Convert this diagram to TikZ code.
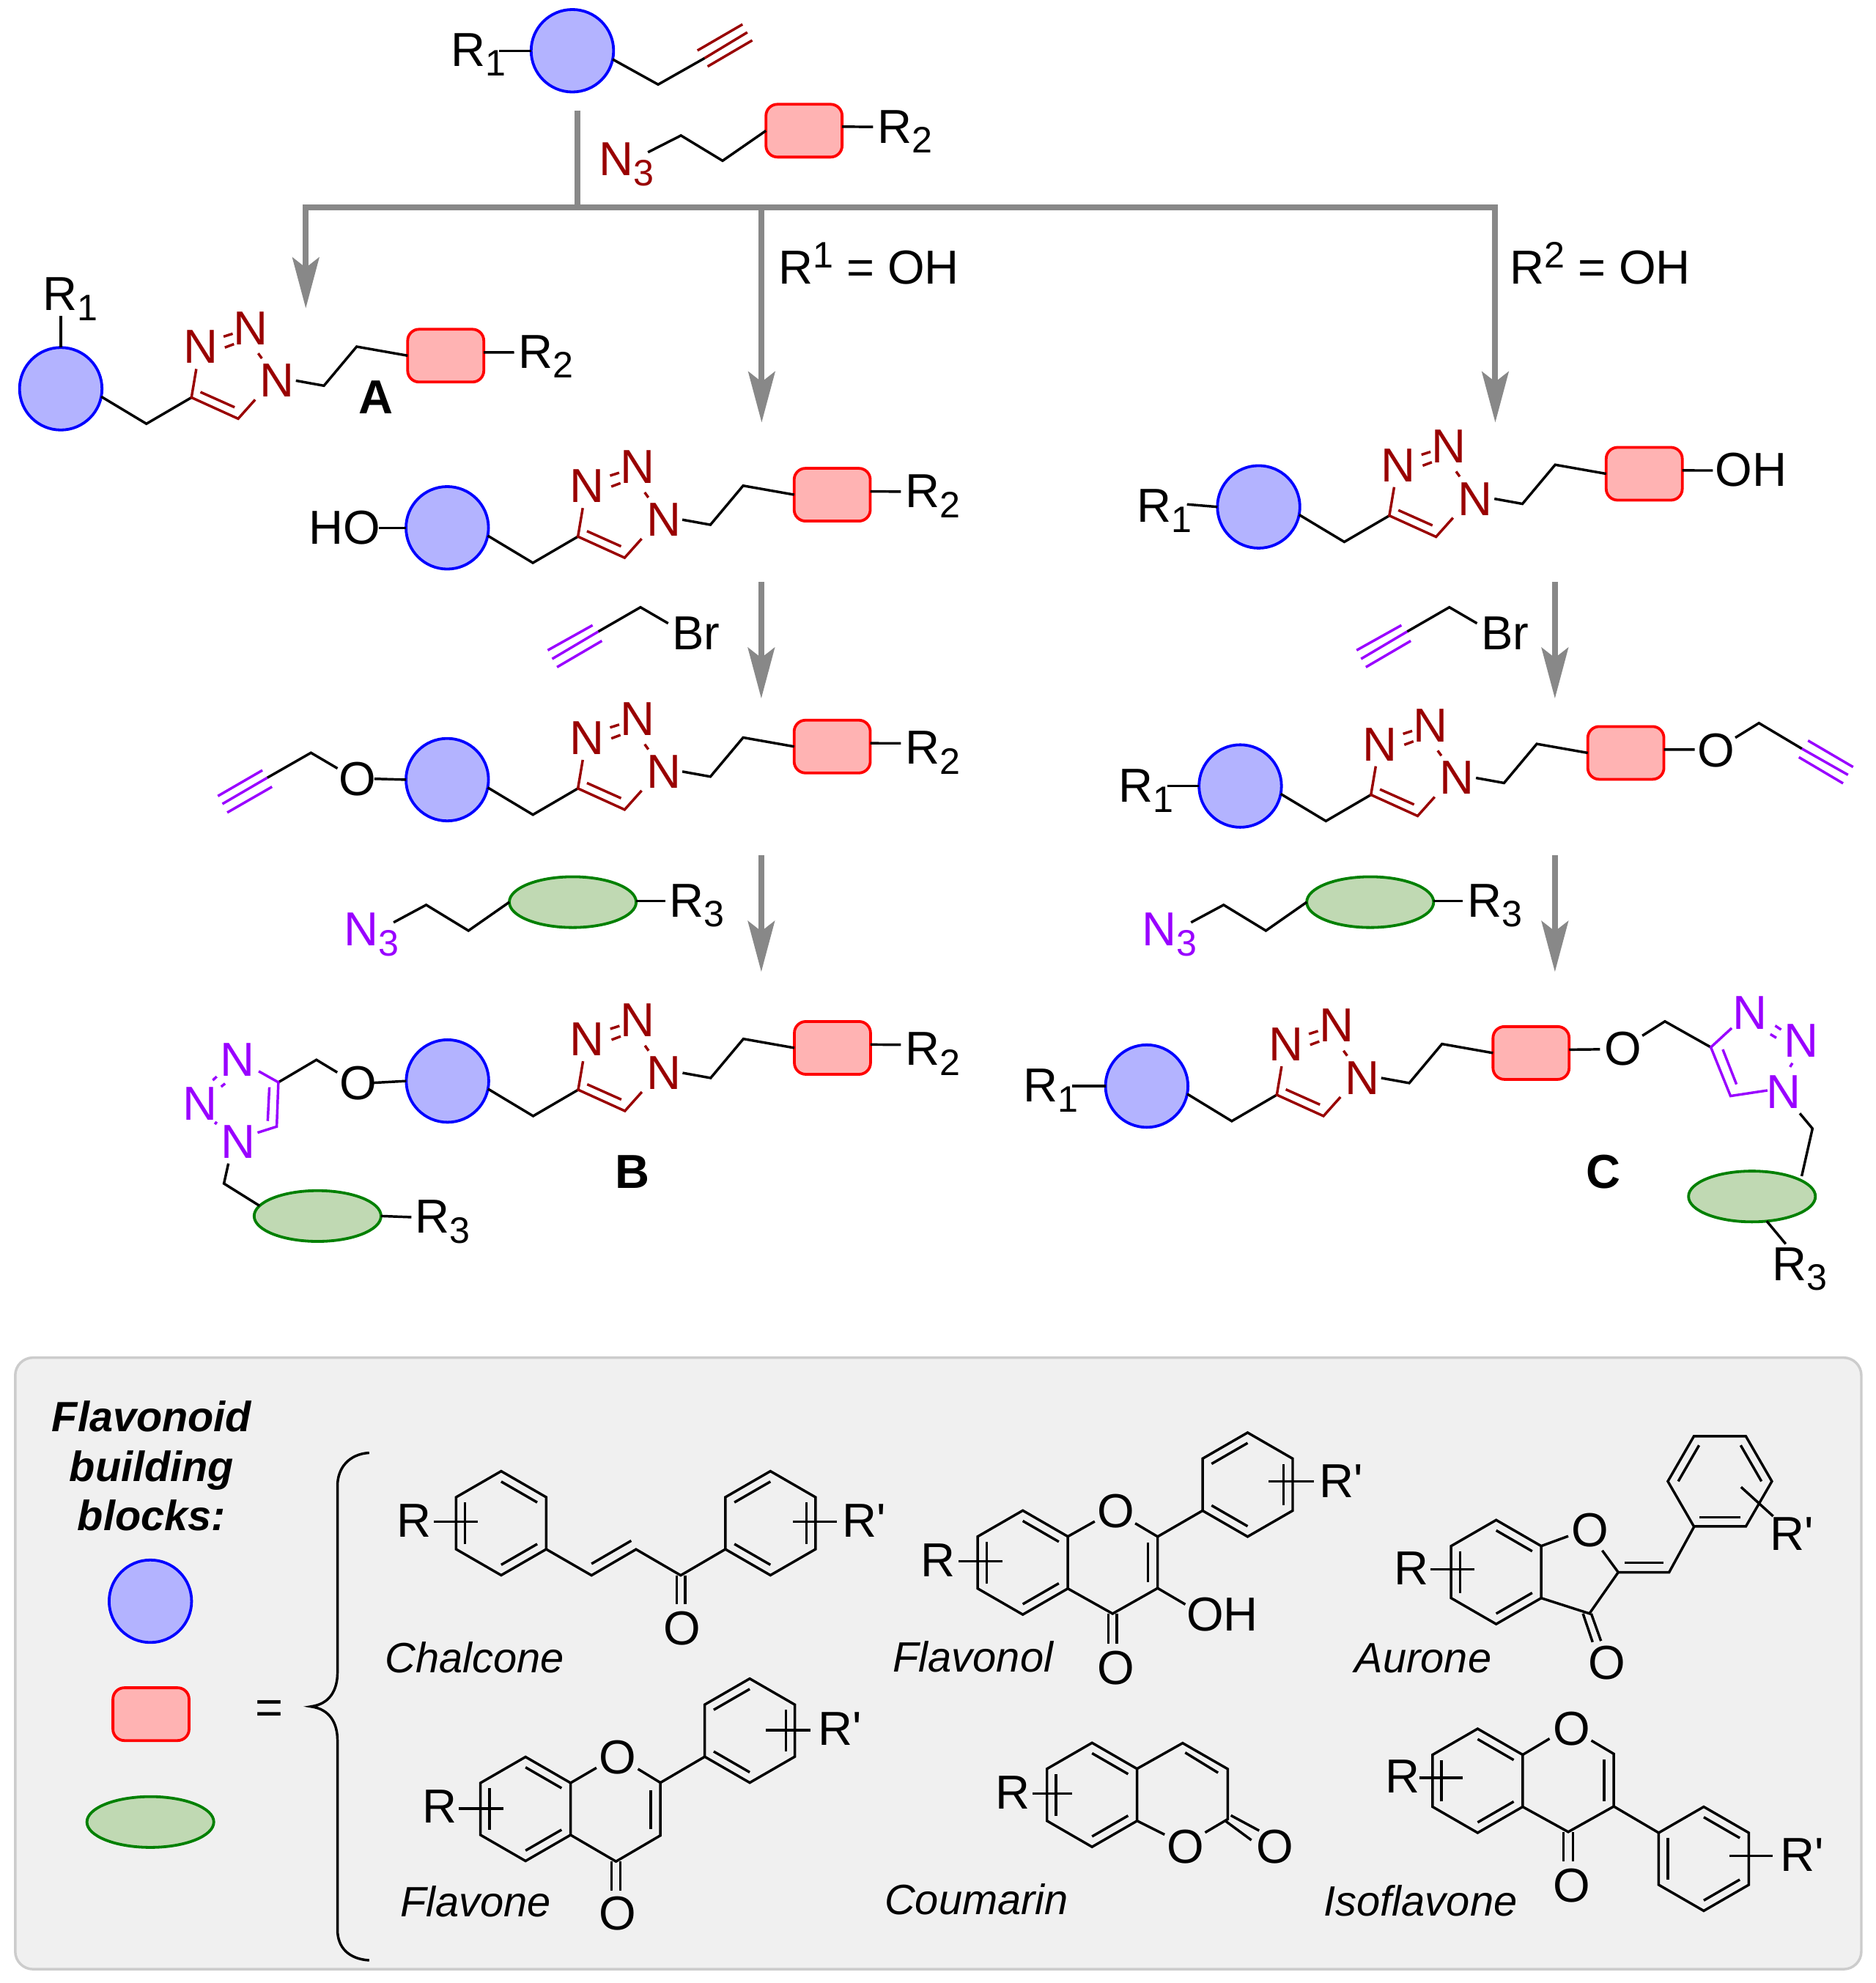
\documentclass[tikz,border=0pt]{standalone}
\usepackage{fontspec}
\usetikzlibrary{arrows.meta,shapes.geometric}
\newfontfamily\lsf{Liberation Sans}
\definecolor{dred}{HTML}{990000}
\definecolor{vio}{HTML}{9900FF}
\definecolor{arrowgray}{HTML}{888888}
\definecolor{bluefill}{HTML}{B3B3FF}
\definecolor{redfill}{HTML}{FFB3B3}
\definecolor{greenfill}{HTML}{C0D9B3}
\definecolor{greenline}{HTML}{008000}
\definecolor{panelfill}{HTML}{F0F0F0}
\definecolor{panelline}{HTML}{CCCCCC}
\def\hR{20.5pt}
\def\hr{16.4pt}
\newcommand\Lo[1]{\raisebox{-4pt}{\fontsize{14.5}{14.5}\selectfont #1}}
\newcommand\Hi[1]{\raisebox{6.5pt}{\fontsize{14.5}{14.5}\selectfont #1}}
\tikzset{
  x=0.5pt,y=-0.5pt,
  bond/.style={line width=1pt,black},
  rbond/.style={line width=1pt,dred},
  vbond/.style={line width=1pt,vio},
  cblob/.style={circle,draw=blue,fill=bluefill,line width=1.1pt,minimum size=32.5pt,inner sep=0pt,outer sep=0pt},
  sblob/.style={rectangle,draw=red,fill=redfill,line width=1.1pt,rounded corners=4.5pt,minimum width=30pt,minimum height=20.8pt,inner sep=0pt,outer sep=0pt},
  gblob/.style={ellipse,draw=greenline,fill=greenfill,line width=1.1pt,minimum width=50pt,minimum height=20pt,inner sep=0pt,outer sep=0pt},
  txt/.style={anchor=base west,inner sep=0pt,outer sep=0pt,xshift=-1.3pt,font=\lsf\fontsize{18.8}{20}\selectfont},
  atom/.style={anchor=center,inner sep=0pt,outer sep=0pt,font=\lsf\fontsize{18.8}{20}\selectfont},
  boldlab/.style={anchor=base west,inner sep=0pt,outer sep=0pt,font=\lsf\bfseries\fontsize{18.8}{20}\selectfont},
  cmpd/.style={anchor=base west,inner sep=0pt,outer sep=0pt,xshift=-1pt,font=\lsf\itshape\fontsize{16.7}{20}\selectfont},
  legend/.style={anchor=base,inner sep=0pt,outer sep=0pt,font=\lsf\bfseries\itshape\fontsize{16.65}{20}\selectfont},
  trunk/.style={line width=2.3pt,arrowgray},
  flow/.style={line width=2.3pt,arrowgray,-{Stealth[length=20pt,width=10.5pt,inset=4pt]}},
}
% hexagon: centre x, centre y, start angle, list of edges carrying an inner double line
\newcommand\hexring[4]{%
  \begin{scope}[shift={(#1,#2)}]
    \draw[bond] ({#3}:\hR) -- ({#3-60}:\hR) -- ({#3-120}:\hR) -- ({#3-180}:\hR) -- ({#3-240}:\hR) -- ({#3-300}:\hR) -- cycle;
    \foreach \k in {#4}{\draw[bond] ({#3-60*(\k-1)}:\hr) -- ({#3-60*\k}:\hr);}
  \end{scope}}
% blob - CH2 - triazole - chain - square
\newcommand\motif[5]{%
  \begin{scope}[shift={(#2,#3)}]
    \node[cblob] (#1c) at (0,0) {};
    \node[sblob] (#1s) at (303.4+#5,-26.1) {};
    \node[atom,text=dred] (#1n1) at (170.5+#4,-6.4) {N};
    \node[atom,text=dred] (#1n3) at (110.1+#4,-32.9) {N};
    \node[atom,text=dred] (#1n2) at (149.9+#4,-47.8) {N};
    \coordinate (#1a) at (67.5+#4,27.6);
    \coordinate (#1k4) at (103+#4,6.9);
    \coordinate (#1k5) at (139.8+#4,23.6);
    \coordinate (#1e1) at (207.4+#5,-2.4);
    \coordinate (#1e2) at (233.2+#5,-33.2);
    \draw[bond] (#1c.-11.6) -- (#1a) -- (#1k4);
    \draw[rbond] (106.8+#4,-15.6) -- (#1k4) -- (#1k5) -- (153.2+#4,8.6);
    \draw[rbond] (110.1+#4,2.6) -- (137+#4,14.6);
    \draw[rbond] (128.3+#4,-41.1) -- (135.5+#4,-43.4);
    \draw[rbond] (129.3+#4,-32.5) -- (136.5+#4,-35.2);
    \draw[rbond] (155.6+#4,-27.9) -- (158.5+#4,-23.9);
    \draw[bond] (185.3+#5,-6.4) -- (#1e1) -- (#1e2) -- (#1s.west);
  \end{scope}}
% N3 - chain - green ellipse - R3
\newcommand\greenazide[2]{%
  \begin{scope}[shift={(#2,0)}]
    \node[gblob] (#1g) at (451.4,711) {};
    \node[txt,text=vio] (#1n) at (274,745.3) {N\Lo{3}};
    \node[txt] (#1r) at (530.4,722.6) {R\Lo{3}};
    \coordinate (#1b) at (335.9,713.2);
    \coordinate (#1d) at (369.2,733.5);
    \draw[bond] (310.2,727) -- (#1b) -- (#1d) -- (#1g.west);
    \draw[bond] (#1g.east) ++(0,-1) -- (524.5,710);
  \end{scope}}
% violet alkyne - CH2 - Br
\newcommand\bromide[2]{%
  \begin{scope}[shift={(#2,0)}]
    \node[txt] (#1br) at (532.5,512) {Br};
    \coordinate (#1a) at (471.5,497.8);
    \coordinate (#1b) at (504.8,478.6);
    \draw[bond] (#1a) -- (#1b) -- (526.6,491.3);
    \draw[vbond] (467,492.8) -- (431.7,512.5);
    \draw[vbond] (#1a) -- (435.2,519.3);
    \draw[vbond] (474.4,505.1) -- (439,525.8);
  \end{scope}}
\begin{document}
\begin{tikzpicture}
\useasboundingbox (0,0) rectangle (1478,1562.9);
\fill[white] (0,0) rectangle (1478,1562.9);

% ---------- starting materials
\begin{scope}[shift={(-2.3,0)}]
\node[cblob] (t c) at (453.4,40) {};
\node[txt] (t r) at (360.6,52) {R\Lo{1}};
\coordinate (t a) at (521,66.6);
\coordinate (t b) at (557.7,45.8);
\draw[bond] (395.7,40) -- (t c.west);
\draw[bond] (t c.-12) -- (t a) -- (t b);
\draw[rbond] (552,39.8) -- (587.5,19.2);
\draw[rbond] (t b) -- (591.3,25.5);
\draw[rbond] (560,52.4) -- (595.2,31.8);

\node[sblob] (z s) at (636,103) {};
\node[txt,text=dred] (z n) at (477,138.6) {N\Lo{3}};
\node[txt] (z r) at (696.6,112.7) {R\Lo{2}};
\coordinate (z a) at (539,106.8);
\coordinate (z b) at (571.8,126.7);
\draw[bond] (513,120) -- (z a) -- (z b) -- (z s.west);
\draw[bond] (z s.6) -- (690.4,100);
\end{scope}

% ---------- reaction tree
\coordinate (t0) at (455,87);
\coordinate (hub) at (455,163.5);
\coordinate (hl) at (241,163.5);
\coordinate (hm) at (600.3,163.5);
\coordinate (hrt) at (1178.5,163.5);
\coordinate (tl) at (241,243);
\coordinate (tm) at (600.3,333);
\coordinate (tr) at (1178.5,333);
\draw[trunk] (t0) -- (hub);
\draw[trunk,line cap=rect] (hl) -- (hrt);
\draw[flow] (hl) -- (tl);
\draw[flow] (hm) -- (tm);
\draw[flow] (hrt) -- (tr);
\node[txt] (cond1) at (616,224) {R\Hi{1} = OH};
\node[txt] (cond2) at (1192.5,224) {R\Hi{2} = OH};

\coordinate (a1) at (600,458.5); \coordinate (a2) at (600,550.5);
\coordinate (a3) at (600,674); \coordinate (a4) at (600,766);
\coordinate (b1) at (1225.5,458.5); \coordinate (b2) at (1225.5,550.5);
\coordinate (b3) at (1225.5,674); \coordinate (b4) at (1225.5,766);
\draw[flow] (a1) -- (a2);
\draw[flow] (a3) -- (a4);
\draw[flow] (b1) -- (b2);
\draw[flow] (b3) -- (b4);

% ---------- product A
\motif{A}{47.9}{306.4}{0}{0}
\node[txt] (A r1) at (36.4,244.7) {R\Lo{1}};
\node[txt] (A r2) at (411,290) {R\Lo{2}};
\draw[bond] (Ac.north) -- (47.9,249);
\draw[bond] (As.5) -- (405.2,277.8);
\node[boldlab] (A lab) at (282.5,326) {A};

% ---------- left column
\motif{L}{352.5}{416}{0}{0}
\node[txt] (L ho) at (246,428.7) {HO};
\node[txt] (L r2) at (716,400) {R\Lo{2}};
\draw[bond] (298.5,416) -- (Lc.west);
\draw[bond] (Ls.5) -- (710,387.5);

\bromide{bl}{0}

\motif{M}{352.5}{614.5}{0}{0}
\node[atom] (M o) at (282,613.8) {O};
\node[txt] (M r2) at (716,602) {R\Lo{2}};
\coordinate (M p) at (245.1,593.3);
\coordinate (M q) at (210.6,613);
\draw[bond] (M o) ++(13,0) -- (Mc.west);
\draw[bond] (266,605.6) -- (M p) -- (M q);
\draw[vbond] (206.8,607.1) -- (171.7,627.4);
\draw[vbond] (M q) -- (175.3,633.6);
\draw[vbond] (214.4,620.1) -- (179.1,640.4);
\draw[bond] (Ms.5) -- (710,585.8);

\greenazide{gl}{0}

\motif{B}{352.7}{852}{0}{0}
\node[txt] (B r2) at (716,839.5) {R\Lo{2}};
\draw[bond] (Bs.5) -- (710,823.4);
\node[atom] (B o) at (282.2,853.6) {O};
\draw[bond] (294.5,853.4) -- (Bc.west);
\coordinate (B p) at (249.4,835.3);
\coordinate (B k4) at (219.4,853);
\coordinate (B k5) at (218.1,887.9);
\draw[bond] (265.8,845.2) -- (B p) -- (B k4);
\node[atom,text=vio] (B na) at (187.1,835.5) {N};
\node[atom,text=vio] (B nb) at (157.5,870) {N};
\node[atom,text=vio] (B nc) at (187.6,900) {N};
\draw[vbond] (203.9,844.3) -- (B k4) -- (B k5) -- (203,892.7);
\draw[vbond] (212.3,856.9) -- (211,883.5);
\draw[vbond] (170.8,848.5) -- (167.7,851.4);
\draw[vbond] (177.4,854) -- (174.3,856.5);
\draw[vbond] (170.8,884.1) -- (169.4,886.1);
\node[gblob] (B g) at (250.3,958.4) {};
\coordinate (B m) at (176.5,932.8);
\draw[bond] (180,917) -- (B m) -- (B g.170);
\draw[bond] (B g.east) -- (324.2,959.3);
\node[txt] (B r3) at (329.9,971.9) {R\Lo{3}};
\node[boldlab] (B lab) at (485,936.5) {B};

% ---------- right column
\motif{P}{992}{399.5}{0}{0.5}
\node[txt] (P r1) at (898.4,411.5) {R\Lo{1}};
\draw[bond] (935.5,397.5) -- (Pc.west);
\draw[bond] (Ps.5) -- (1350,370.8);
\node[txt] (P oh) at (1354.5,383) {OH};

\bromide{br}{637.5}

\motif{Q}{977.5}{619.5}{0}{0.5}
\node[txt] (Q r1) at (884.4,632.3) {R\Lo{1}};
\draw[bond] (919.9,619.5) -- (Qc.west);
\draw[bond] (Qs.5) -- (1335.7,590.8);
\begin{scope}[shift={(-6,0)}]
\node[atom] (Q o) at (1358.3,591.5) {O};
\coordinate (Q p) at (1392.3,569.9);
\coordinate (Q q) at (1426.2,590.1);
\draw[bond] (1373.7,581.4) -- (Q p) -- (Q q);
\draw[vbond] (1431,583.7) -- (1466.5,604.5);
\draw[vbond] (Q q) -- (1462.5,610.7);
\draw[vbond] (1423.8,596.8) -- (1458.6,617.4);
\end{scope}

\greenazide{gr}{628.5}

\motif{C}{903.8}{856}{-0.5}{-0.5}
\node[txt] (C r1) at (809.4,868.4) {R\Lo{1}};
\draw[bond] (845,856) -- (Cc.west);
\draw[bond] (Cs.5) -- (1261,827);
\begin{scope}[shift={(-6,-1)}]
\node[atom] (C o) at (1285.3,827.5) {O};
\coordinate (C p) at (1318.2,806);
\coordinate (C k4) at (1354.4,826.4);
\coordinate (C k5) at (1369.9,864.8);
\draw[bond] (1300.4,817.3) -- (C p) -- (C k4);
\node[atom,text=vio] (C na) at (1385.5,799) {N};
\node[atom,text=vio] (C nb) at (1425.5,821) {N};
\node[atom,text=vio] (C nc) at (1411.5,861.5) {N};
\draw[vbond] (1370.8,811.3) -- (C k4) -- (C k5) -- (1399,860.4);
\draw[vbond] (1363.8,828.1) -- (1374.6,855.6);
\draw[vbond] (1405.1,809.4) -- (1409.8,812.5);
\draw[vbond] (1401.3,816.1) -- (1406,819);
\draw[vbond] (1418.7,838.9) -- (1416.8,841.9);
\end{scope}
\node[gblob] (C g) at (1380.8,943) {};
\coordinate (C m) at (1428.5,889.5);
\draw[bond] (1418.5,877.5) -- (C m) -- (1420,927);
\draw[bond] (1392.4,962.4) -- (1407.4,980.4);
\node[txt] (C r3) at (1399.4,1009) {R\Lo{3}};
\node[boldlab] (C lab) at (1250,936.5) {C};

% ---------- panel
\draw[panelline,fill=panelfill,line width=1pt,rounded corners=7pt] (12,1070) rectangle (1467,1552);
\node[legend] (f1) at (119.5,1128.5) {Flavonoid};
\node[legend] (f2) at (119.5,1167.5) {building};
\node[legend] (f3) at (119.5,1206.5) {blocks:};
\node[cblob] (k c) at (118.5,1262) {};
\node[sblob] (k s) at (119,1351) {};
\node[gblob] (k g) at (118.5,1436) {};
\node[atom,anchor=base] (k eq) at (212.5,1359) {=};
\draw[bond] (291,1145) .. controls (275,1146) and (266,1157) .. (266,1171) -- (266,1318)
  .. controls (266,1332) and (260,1343) .. (245,1345)
  .. controls (260,1347) and (266,1358) .. (266,1372) -- (266,1521)
  .. controls (266,1535) and (275,1544) .. (291,1545);

% Chalcone
\begin{scope}[shift={(-2.5,-3.5)}]
\hexring{397.5}{1204}{90}{1,3,5}
\hexring{609.7}{1204}{90}{6,2,4}
\node[txt] (ch r) at (318,1215) {R};
\node[txt] (ch rp) at (669,1215) {R'};
\draw[bond] (344.6,1202.7) -- (379.2,1202.7);
\draw[bond] (627.5,1202.7) -- (662.2,1202.7);
\draw[bond] (433,1224.5) -- (468.7,1245.1) -- (503.8,1224.6) -- (539,1245.1) -- (574.2,1224.5);
\draw[bond] (468.7,1236) -- (500,1217.8);
\draw[bond] (535.8,1245) -- (535.8,1268);
\draw[bond] (542.5,1245) -- (542.5,1268);
\node[atom] (ch o) at (540,1287) {O};
\node[cmpd] (ch n) at (308,1321.5) {Chalcone};
\end{scope}

% Flavone
\begin{scope}[shift={(-2.5,-6)}]
\hexring{416.7}{1431.7}{90}{1,3,5}
\hexring{593.4}{1370}{90}{6,2,4}
\node[atom] (fe o) at (489.4,1391) {O};
\node[atom] (fe o2) at (489.4,1514) {O};
\node[txt] (fe r) at (338.3,1442.6) {R};
\node[txt] (fe rp) at (649.7,1381.6) {R'};
\node[cmpd] (fe n) at (320,1516.5) {Flavone};
\draw[bond] (452.2,1411.2) -- (472.6,1399.3);
\draw[bond] (505.3,1400.2) -- (523,1411) -- (523,1452.6) -- (488,1473.1) -- (452.2,1452.2);
\draw[bond] (523,1411) -- (558,1390.5);
\draw[bond] (515.4,1417) -- (515.4,1447.4);
\draw[bond] (484.6,1473) -- (484.6,1496.2);
\draw[bond] (491.4,1473) -- (491.4,1496.2);
\draw[bond] (364.3,1431.4) -- (399.4,1431.4);
\draw[bond] (606.3,1369.7) -- (641.5,1369.7);
\end{scope}

% Flavonol
\begin{scope}[shift={(-3.5,-2.5)}]
\hexring{809.6}{1234}{90}{1,3,5}
\hexring{986.8}{1172.6}{90}{6,2,4}
\node[atom] (fl o) at (883,1193.5) {O};
\node[atom] (fl o2) at (883,1317.2) {O};
\node[txt] (fl oh) at (941.2,1288) {OH};
\node[txt] (fl r) at (732,1245) {R};
\node[txt] (fl rp) at (1046,1183) {R'};
\node[cmpd] (fl n) at (709.3,1320) {Flavonol};
\draw[bond] (845.1,1213.5) -- (866.3,1201.6);
\draw[bond] (898.2,1203.1) -- (915.9,1213.6) -- (915.9,1254.2) -- (880.4,1274.3) -- (845.1,1254.5);
\draw[bond] (915.9,1213.6) -- (951.3,1193.1);
\draw[bond] (908.3,1218) -- (908.3,1249.6);
\draw[bond] (915.9,1254.2) -- (937.7,1267);
\draw[bond] (877,1274.3) -- (877,1297.7);
\draw[bond] (883.8,1274.3) -- (883.8,1297.7);
\draw[bond] (758.9,1233) -- (793.4,1233);
\draw[bond] (1003.5,1170) -- (1038.9,1170);
\end{scope}

% Aurone
\begin{scope}[shift={(-5,-2)}]
\hexring{1184.2}{1241}{90}{1,3,5}
\hexring{1360.5}{1169.5}{120}{2,4,6}
\node[atom] (au o) at (1258.2,1208.2) {O};
\node[atom] (au o2) at (1271.3,1312.7) {O};
\node[txt] (au r) at (1106.2,1251) {R};
\node[txt] (au rp) at (1402.5,1224) {R'};
\node[cmpd] (au n) at (1074.8,1320) {Aurone};
\draw[bond] (1219.7,1220.5) -- (1241,1212.7);
\draw[bond] (1267.8,1224) -- (1280.4,1241.2) -- (1257.7,1273.7) -- (1219.7,1261.5);
\draw[bond] (1280.4,1241.2) -- (1320.5,1241.2) -- (1340.2,1205.2);
\draw[bond] (1285.5,1233.7) -- (1316,1233.7);
\draw[bond] (1252.6,1273.7) -- (1260.2,1296.2);
\draw[bond] (1259.1,1273.7) -- (1266.8,1295.3);
\draw[bond] (1132.6,1239) -- (1166.9,1239);
\draw[bond] (1377.2,1174) -- (1402.5,1197);
\end{scope}

% Coumarin
\begin{scope}[shift={(-3,-5)}]
\hexring{863.7}{1419.6}{90}{1,3,5}
\node[atom] (co o) at (937.1,1460.5) {O};
\node[atom] (co o2) at (1008,1460.5) {O};
\node[txt] (co r) at (790.3,1430.7) {R};
\node[cmpd] (co n) at (702.2,1514) {Coumarin};
\draw[bond] (899.2,1399) -- (935.1,1378.8) -- (970.6,1399.2) -- (970.6,1438.8) -- (952.8,1449.3);
\draw[bond] (899.2,1440.1) -- (920.9,1450.9);
\draw[bond] (937.1,1386.3) -- (963,1402.2);
\draw[bond] (973.1,1435.8) -- (995.4,1447.8);
\draw[bond] (969,1440.3) -- (989.3,1455.3);
\draw[bond] (816.6,1418.7) -- (848,1418.7);
\end{scope}

% Isoflavone
\begin{scope}[shift={(-5,-4)}]
\hexring{1169.6}{1407.5}{90}{1,3,5}
\hexring{1347.8}{1469}{90}{1,3,5}
\node[atom] (is o) at (1243.5,1366.8) {O};
\node[atom] (is o2) at (1243.5,1489.9) {O};
\node[txt] (is r) at (1099.2,1417.2) {R};
\node[txt] (is rp) at (1410.6,1478.8) {R'};
\node[cmpd] (is n) at (1050.5,1514) {Isoflavone};
\draw[bond] (1205.1,1387) -- (1226.3,1374.3);
\draw[bond] (1259.2,1375.8) -- (1276.9,1386.3) -- (1276.9,1427.7) -- (1241,1447.8) -- (1205.1,1428);
\draw[bond] (1276.9,1427.7) -- (1312.3,1448.5);
\draw[bond] (1269.3,1390.8) -- (1269.3,1423.8);
\draw[bond] (1237.2,1447.8) -- (1237.2,1471);
\draw[bond] (1244.6,1447.8) -- (1244.6,1471);
\draw[bond] (1123.5,1405.2) -- (1157.9,1405.2);
\draw[bond] (1368,1466.8) -- (1402,1466.8);
\end{scope}
\end{tikzpicture}
\end{document}
